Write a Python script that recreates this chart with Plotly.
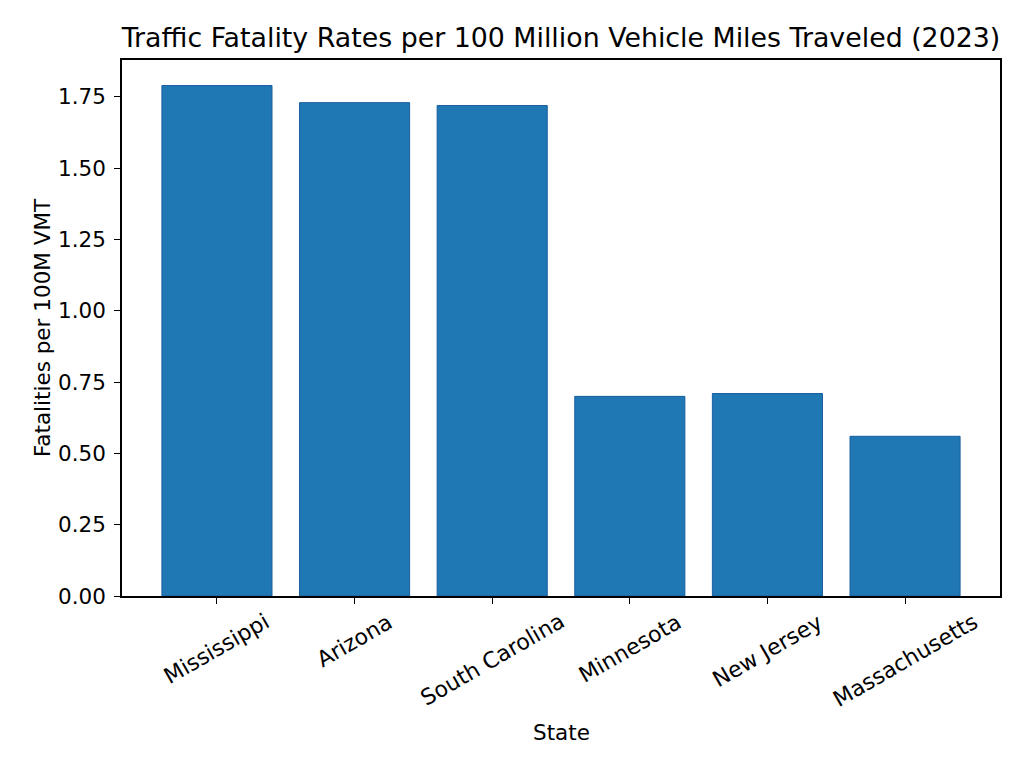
import plotly.graph_objects as go

# data
states = ["Mississippi", "Arizona", "South Carolina", "Minnesota", "New Jersey", "Massachusetts"]
rates = [1.79, 1.73, 1.72, 0.70, 0.71, 0.56]
y_ticks = [0.0, 0.25, 0.5, 0.75, 1.0, 1.25, 1.5, 1.75]

FONT = "DejaVu Sans"
BLUE = "#1f77b4"

fig = go.Figure(go.Bar(
    x=list(range(len(states))),
    y=rates,
    width=0.8,
    marker=dict(color=BLUE, line=dict(color="#1a5fa0", width=1)),
))

# matplotlib-style rotated labels, centred under each tick
for i, name in enumerate(states):
    fig.add_annotation(
        x=i, y=0, xref="x", yref="paper",
        text=name, textangle=-30, showarrow=False,
        xanchor="center", yanchor="top", yshift=-10,
        font=dict(family=FONT, size=22, color="black"),
    )

# x axis title placed by hand under the rotated labels
fig.add_annotation(
    x=0.5, y=0, xref="paper", yref="paper",
    text="State", showarrow=False,
    xanchor="center", yanchor="top", yshift=-122,
    font=dict(family=FONT, size=21.5, color="black"),
)

fig.update_layout(
    width=1024, height=768,
    margin=dict(l=114, r=32, t=52, b=180),
    paper_bgcolor="white", plot_bgcolor="white",
    font=dict(family=FONT, size=21.5, color="black"),
    title=dict(
        text="Traffic Fatality Rates per 100 Million Vehicle Miles Traveled (2023)",
        x=0.54, xanchor="center", y=0.962, yanchor="middle",
        font=dict(family=FONT, size=26.8, color="black"),
    ),
    showlegend=False,
)

fig.update_xaxes(
    range=[-0.69, 5.69],
    tickmode="array", tickvals=list(range(len(states))), ticktext=[""] * len(states),
    ticks="outside", ticklen=6, tickwidth=1.2, tickcolor="black",
    showline=True, linecolor="black", linewidth=1.5, mirror=True,
    showgrid=False, zeroline=False,
)
fig.update_yaxes(
    range=[0, 1.8795],
    tickmode="array", tickvals=y_ticks, ticktext=[f"{v:.2f}" for v in y_ticks],
    ticks="outside", ticklen=6, tickwidth=1.2, tickcolor="black",
    ticklabelstandoff=4,
    showline=True, linecolor="black", linewidth=1.5, mirror=True,
    showgrid=False, zeroline=False,
    title=dict(text="Fatalities per 100M VMT", standoff=2, font=dict(family=FONT, size=21.5)),
)

fig.write_html("out.html")
